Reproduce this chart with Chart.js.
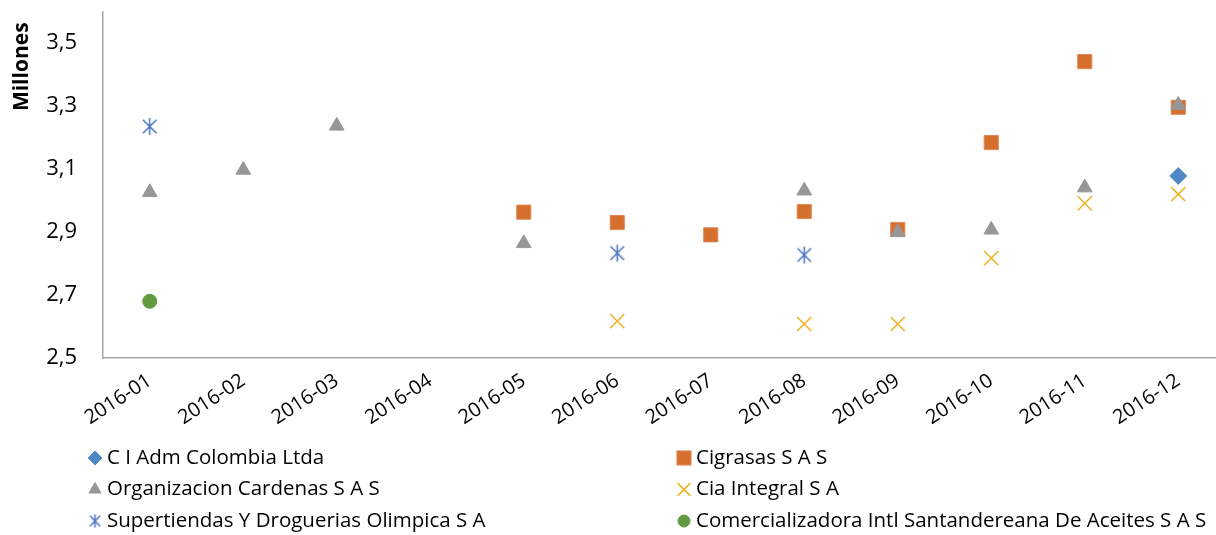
<!DOCTYPE html>
<html>
<head>
<meta charset="utf-8">
<script src="https://cdn.jsdelivr.net/npm/chart.js@4.4.1/dist/chart.umd.min.js"></script>
<style>
html, body { margin: 0; padding: 0; background: #fff; overflow: hidden; }
#chart { display: block; }
</style>
</head>
<body>
<canvas id="chart" width="1216" height="535"></canvas>
<script>
// months on the x axis
const months = ['2016-01', '2016-02', '2016-03', '2016-04', '2016-05', '2016-06',
  '2016-07', '2016-08', '2016-09', '2016-10', '2016-11', '2016-12'];

// values in millions, null = no record that month
const ciAdm = [null, null, null, null, null, null, null, null, null, null, null, 3.078];
const cigrasas = [null, null, null, null, 2.963, 2.930, 2.891, 2.965, 2.908, 3.184, 3.441, 3.296];
const cardenas = [3.026, 3.097, 3.237, null, 2.864, null, null, 3.031, 2.899, 2.907, 3.041, 3.303];
const ciaIntegral = [null, null, null, null, null, 2.617, null, 2.608, 2.608, 2.817, 2.991, 3.020];
const olimpica = [3.235, null, null, null, null, 2.833, null, 2.827, null, null, null, null];
const santandereana = [2.680, null, null, null, null, null, null, null, null, null, null, null];

const yTicks = [2.5, 2.7, 2.9, 3.1, 3.3, 3.5];

const FONT = '"Open Sans"';

// asterisk marker (vertical bar + X), like the office "star" marker
function makeStar(color, size) {
  const c = document.createElement('canvas');
  c.width = size; c.height = size;
  const g = c.getContext('2d');
  g.strokeStyle = color;
  g.lineWidth = 1.5;
  const m = size / 2, r = size / 2 - 1;
  g.beginPath();
  g.moveTo(m, m - r); g.lineTo(m, m + r);
  g.moveTo(m - r * 0.8, m - r * 0.8); g.lineTo(m + r * 0.8, m + r * 0.8);
  g.moveTo(m + r * 0.8, m - r * 0.8); g.lineTo(m - r * 0.8, m + r * 0.8);
  g.stroke();
  return c;
}
const starBig = makeStar('#4A72C0', 19);
const starSmall = makeStar('#4A72C0', 15);

const datasets = [
  { label: 'C I Adm Colombia Ltda', data: ciAdm, pointStyle: 'rectRot', radius: 8.5,
    backgroundColor: '#4F86C6', borderColor: '#5B8FCB', order: 1, legendRadius: 7 },
  { label: 'Cigrasas S A S', data: cigrasas, pointStyle: 'rect', radius: 10,
    backgroundColor: '#D46F2D', borderColor: '#E08A55', order: 2, legendRadius: 10 },
  { label: 'Organizacion Cardenas S A S', data: cardenas, pointStyle: 'triangle', radius: 8.5,
    backgroundColor: '#979797', borderColor: '#979797', order: 0, legendRadius: 7 },
  { label: 'Cia Integral S A', data: ciaIntegral, pointStyle: 'crossRot', radius: 10,
    backgroundColor: '#EDB21E', borderColor: '#EDB21E', order: 3, legendRadius: 9, bw: 1.5 },
  { label: 'Supertiendas Y Droguerias Olimpica S A', data: olimpica, pointStyle: starBig, radius: 9,
    backgroundColor: '#4A72C0', borderColor: '#4A72C0', order: 4, legendStyle: starSmall },
  { label: 'Comercializadora Intl Santandereana De Aceites S A S', data: santandereana, pointStyle: 'circle', radius: 7,
    backgroundColor: '#629B3F', borderColor: '#629B3F', order: 5, legendRadius: 6 }
].map(d => ({
  label: d.label,
  data: d.data,
  showLine: false,
  pointStyle: d.pointStyle,
  pointRadius: d.radius,
  pointHoverRadius: d.radius,
  pointBackgroundColor: d.backgroundColor,
  pointBorderColor: d.borderColor,
  pointBorderWidth: d.bw || 1,
  backgroundColor: d.backgroundColor,
  borderColor: d.borderColor,
  order: d.order,
  legendRadius: d.legendRadius,
  legendStyle: d.legendStyle,
  bw: d.bw || 1
}));

// two-column legend under the chart
const gridLegend = {
  id: 'gridLegend',
  afterDraw(chart) {
    const ctx = chart.ctx;
    ctx.save();
    ctx.font = '20.5px ' + FONT;
    ctx.textBaseline = 'middle';
    ctx.textAlign = 'left';
    chart.data.datasets.forEach((ds, i) => {
      const col = i % 2, row = Math.floor(i / 2);
      const mx = col ? 684 : 95;
      const my = 458 + row * 31.5;
      ctx.fillStyle = ds.backgroundColor;
      ctx.strokeStyle = ds.borderColor;
      ctx.lineWidth = ds.bw;
      Chart.helpers.drawPoint(ctx, {
        pointStyle: ds.legendStyle || ds.pointStyle,
        radius: ds.legendRadius || 6,
        borderWidth: ds.bw
      }, mx, my);
      ctx.fillStyle = '#000';
      ctx.fillText(ds.label, mx + 12, my);
    });
    ctx.restore();
  }
};

// the plot area runs a little past the right edge of the picture
const OVERHANG = 9;
const stretchX = {
  id: 'stretchX',
  afterLayout(chart) {
    const x = chart.scales.x;
    const right = chart.width + OVERHANG;
    x.right = right;
    x.width = right - x.left;
    x.configure();
    chart.chartArea.right = right;
    chart.chartArea.width = right - chart.chartArea.left;
  }
};

new Chart(document.getElementById('chart'), {
  type: 'line',
  data: { labels: months, datasets: datasets },
  plugins: [stretchX, gridLegend],
  options: {
    responsive: false,
    animation: false,
    layout: { padding: { top: 5, left: 0, right: 0, bottom: 97 } },
    plugins: { legend: { display: false }, tooltip: { enabled: false } },
    scales: {
      x: {
        offset: true,
        grid: { display: false, drawTicks: true, tickLength: 11 },
        border: { display: true, color: '#A6A6A6', width: 1.5 },
        ticks: {
          color: '#000',
          font: { family: FONT, size: 20 },
          minRotation: 33,
          maxRotation: 33,
          autoSkip: false,
          padding: 0
        },
        afterFit(s) {
          s.height = 80;
          s.paddingLeft = 0;
          s.paddingRight = 0;
        }
      },
      y: {
        min: 2.5,
        max: 3.6,
        grid: { display: false, drawTicks: false },
        border: { display: true, color: '#A6A6A6', width: 1.5 },
        afterBuildTicks(s) { s.ticks = yTicks.map(v => ({ value: v })); },
        ticks: {
          color: '#000',
          font: { family: FONT, size: 22 },
          padding: 26,
          callback: v => v.toFixed(1).replace('.', ',')
        },
        title: {
          display: true,
          text: 'Millones  ',
          align: 'end',
          color: '#000',
          font: { family: FONT, size: 21, weight: 'bold' },
          padding: { top: 9, bottom: 0 }
        },
        afterFit(s) {
          s.width = 103;
          s.paddingTop = 0;
          s.paddingBottom = 0;
        }
      }
    }
  }
});
</script>
</body>
</html>
